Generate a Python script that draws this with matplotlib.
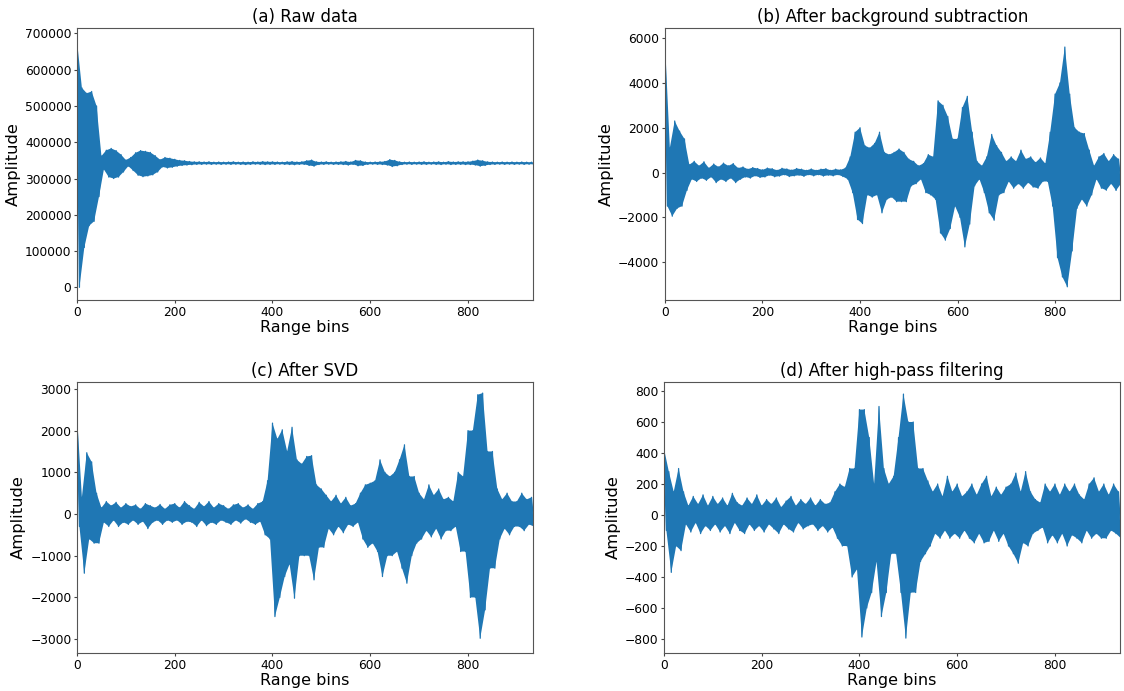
import matplotlib
matplotlib.use("Agg")
import matplotlib.pyplot as plt
import numpy as np

# Each signal is described by its upper peaks (read at bins 0, 10, 20, ...)
# and lower peaks (read at bins 5, 15, 25, ...), range bins 0..930.
raw_hi = [680000, 550000, 535000, 540000, 500000, 362000, 378000, 383000, 377000, 366000,
          351000, 358000, 371000, 377000, 375000, 372000, 363000, 352000, 358000, 356000,
          353000, 350000, 349000, 347000, 346000, 346000, 345500, 346000, 345000, 345500,
          345000, 345500, 346000, 345000, 345500, 345000, 346000, 345500, 346500, 346000,
          346000, 345500, 345000, 346000, 346500, 345500, 346000, 349000, 351000, 346000,
          345500, 346000, 345000, 345500, 346000, 347000, 345500, 350000, 349000, 345500,
          345000, 345500, 346000, 347000, 352000, 350000, 346000, 345000, 345500, 345000,
          345500, 346000, 345000, 345500, 346000, 345000, 346500, 345500, 346000, 346000,
          346000, 348000, 351000, 349000, 346000, 345500, 345000, 345500, 345000, 345500,
          345000, 345500, 345000, 345000]
raw_lo = [0, 110000, 170000, 182000, 250000, 325000, 304000, 300000, 304000, 318000,
          334000, 322000, 309000, 305000, 307000, 310000, 318000, 332000, 329000, 331000,
          334000, 336000, 337000, 338000, 339000, 339000, 339500, 339000, 339500, 339000,
          339500, 339000, 339500, 339000, 338500, 339000, 339500, 339000, 338500, 339000,
          339000, 339500, 339000, 338500, 338000, 339000, 339000, 336000, 334000, 338500,
          339000, 339500, 339000, 339000, 338500, 337000, 339000, 335000, 336000, 339000,
          339500, 339000, 338500, 337000, 333000, 335000, 338500, 339500, 339000, 339500,
          339000, 339000, 339500, 339000, 338500, 339500, 338500, 339000, 339000, 338500,
          338500, 337000, 334000, 336000, 338500, 339000, 339500, 339000, 339500, 339000,
          339500, 339000, 339500, 339000]

bg_hi = [5850, 1100, 2300, 1850, 1500, 350, 500, 300, 480, 200,
         380, 250, 420, 300, 400, 200, 250, 150, 220, 180,
         120, 200, 170, 100, 190, 160, 110, 180, 150, 100,
         160, 100, 150, 170, 100, 150, 120, 200, 700, 1800,
         2000, 1200, 1100, 1300, 1800, 900, 800, 900, 1050, 900,
         600, 500, 300, 400, 800, 700, 3200, 3000, 2500, 1500,
         1500, 2900, 3400, 1800, 500, 300, 700, 1700, 1200, 900,
         500, 700, 500, 1000, 600, 700, 450, 650, 400, 1800,
         3500, 4000, 5600, 3500, 2000, 1800, 1740, 1000, 300, 700,
         850, 500, 800, 600]
bg_lo = [-1500, -1950, -1600, -1500, -800, -300, -400, -250, -350, -200,
         -450, -300, -400, -250, -450, -300, -200, -250, -150, -220,
         -200, -120, -190, -160, -100, -180, -150, -120, -170, -100,
         -150, -100, -160, -120, -150, -100, -180, -300, -900, -2100,
         -2280, -1000, -1100, -1000, -1800, -1200, -1100, -1300, -1300, -1300,
         -600, -500, -300, -900, -1000, -1200, -2700, -3020, -2500, -1500,
         -2000, -3320, -2300, -600, -300, -900, -1800, -2130, -1000, -900,
         -400, -700, -500, -700, -450, -650, -700, -400, -400, -1500,
         -3800, -4660, -5100, -3500, -1600, -1200, -1500, -1000, -300, -700,
         -790, -500, -800, -500]

svd_hi = [2380, 400, 1470, 1250, 500, 150, 300, 200, 280, 150,
          250, 180, 220, 120, 250, 200, 150, 230, 120, 220,
          250, 150, 300, 200, 120, 280, 180, 300, 150, 250,
          200, 120, 220, 250, 150, 220, 120, 250, 300, 800,
          2180, 1800, 2020, 1500, 2080, 1300, 1200, 1380, 1400, 700,
          600, 450, 300, 450, 250, 400, 200, 250, 500, 700,
          740, 800, 1300, 1000, 900, 1000, 1300, 1660, 900, 900,
          500, 350, 700, 450, 600, 350, 400, 300, 1000, 900,
          2000, 2000, 2860, 2900, 1500, 1500, 600, 350, 500, 300,
          300, 500, 350, 400]
svd_lo = [-300, -1420, -600, -700, -700, -200, -300, -150, -300, -200,
          -250, -150, -250, -180, -350, -200, -150, -250, -150, -200,
          -150, -250, -180, -200, -300, -150, -280, -200, -250, -150,
          -200, -250, -150, -220, -120, -200, -250, -180, -500, -600,
          -2460, -2000, -1500, -1200, -2020, -1000, -1000, -1000, -1580, -800,
          -800, -350, -500, -300, -450, -250, -300, -200, -600, -800,
          -700, -900, -1500, -1000, -1000, -900, -1300, -1660, -1000, -700,
          -600, -400, -550, -350, -600, -400, -400, -300, -900, -900,
          -2000, -2000, -2980, -2300, -1300, -1300, -600, -350, -500, -300,
          -300, -400, -250, -300]

hp_hi = [430, 280, 150, 300, 150, 60, 120, 70, 130, 60,
         120, 70, 110, 60, 140, 80, 60, 110, 70, 130,
         60, 100, 70, 110, 50, 90, 120, 60, 100, 70,
         110, 60, 100, 70, 80, 150, 200, 180, 300, 300,
         680, 680, 500, 200, 700, 300, 200, 250, 500, 780,
         600, 600, 300, 300, 220, 150, 200, 120, 250, 150,
         200, 120, 150, 200, 130, 200, 250, 120, 180, 130,
         180, 200, 270, 150, 280, 150, 100, 80, 200, 150,
         200, 130, 200, 150, 200, 130, 100, 200, 240, 150,
         200, 130, 200, 150]
hp_lo = [-100, -370, -200, -230, -60, -110, -50, -120, -70, -100,
         -60, -110, -70, -120, -50, -100, -120, -60, -100, -70,
         -110, -60, -90, -120, -60, -90, -110, -50, -90, -70,
         -60, -100, -70, -110, -80, -150, -200, -200, -400, -350,
         -787, -600, -500, -300, -655, -500, -250, -250, -500, -794,
         -500, -500, -300, -250, -200, -120, -150, -100, -150, -120,
         -150, -100, -150, -180, -120, -180, -170, -100, -170, -120,
         -200, -250, -311, -180, -200, -120, -100, -80, -180, -130,
         -180, -120, -200, -130, -150, -180, -100, -150, -120, -150,
         -150, -100, -120, -150]

titles = ["(a) Raw data", "(b) After background subtraction",
          "(c) After SVD", "(d) After high-pass filtering"]
ylims = [(-35000, 715000), (-5690, 6450), (-3333, 3166), (-890, 858)]
yticks = [np.arange(0, 700001, 100000), np.arange(-4000, 6001, 2000),
          np.arange(-3000, 3001, 1000), np.arange(-800, 801, 200)]

COLOR = "#1f77b4"


def draw_signal(ax, hi, lo):
    """Fill the band between upper and lower peaks and trace the waveform."""
    xh = np.arange(len(hi)) * 10
    xl = np.arange(len(lo)) * 10 + 5
    ax.fill(np.concatenate([xh, xl[::-1]]), np.concatenate([hi, lo[::-1]]),
            color=COLOR, linewidth=0)
    x = np.empty(2 * len(hi))
    y = np.empty(2 * len(hi))
    x[0::2], x[1::2] = xh, xl
    y[0::2], y[1::2] = hi, lo
    ax.plot(x, y, color=COLOR, linewidth=0.9)


fig = plt.figure(figsize=(11.24, 6.91), dpi=100)
boxes = [[0.0685, 0.5658, 0.4057, 0.3937],
         [0.5916, 0.5658, 0.4048, 0.3937],
         [0.0685, 0.0550, 0.4057, 0.3922],
         [0.5907, 0.0550, 0.4057, 0.3922]]
signals = [(raw_hi, raw_lo), (bg_hi, bg_lo), (svd_hi, svd_lo), (hp_hi, hp_lo)]

for box, (hi, lo), title, ylim, yt in zip(boxes, signals, titles, ylims, yticks):
    ax = fig.add_axes(box)
    draw_signal(ax, np.array(hi), np.array(lo))
    ax.set_xlim(0, 933)
    ax.set_ylim(*ylim)
    ax.set_xticks([0, 200, 400, 600, 800])
    ax.set_yticks(yt)
    ax.tick_params(labelsize=8.8, color="#444444", length=2.5, pad=1.5)
    for s in ax.spines.values():
        s.set_color("#555555")
    ax.set_title(title, fontsize=12, pad=4)
    ax.set_xlabel("Range bins", fontsize=11.5, labelpad=1)
    ax.set_ylabel("Amplitude", fontsize=11.8, labelpad=3)

fig.savefig("out.png", dpi=100)
